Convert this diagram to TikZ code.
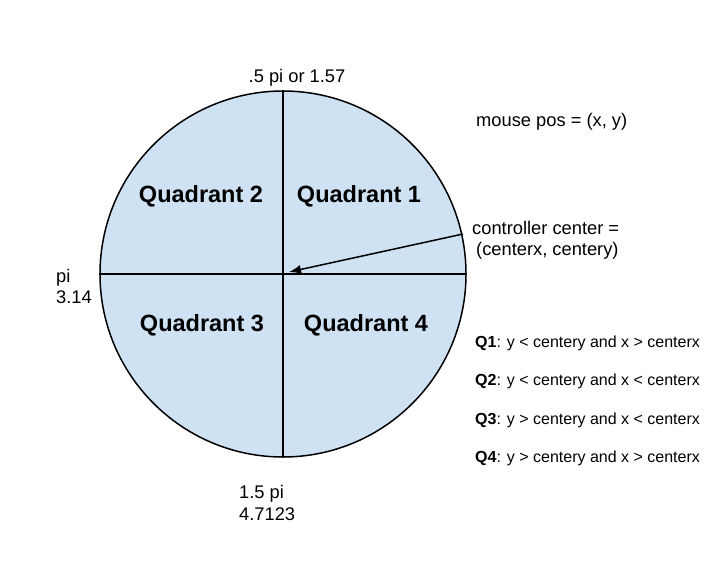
\documentclass[tikz,border=0pt]{standalone}
\usepackage{fontspec}
\setmainfont{Liberation Sans}
\usetikzlibrary{arrows.meta}
\begin{document}
\begin{tikzpicture}[x=1pt, y=-1pt,
    wheelStyle/.style={circle, draw, line width=1.5pt, fill=wheelBlue, minimum size=366pt, inner sep=0pt},
    quadStyle/.style={font=\bfseries\fontsize{23.5}{27}\selectfont, anchor=base, inner sep=0pt},
    noteStyle/.style={font=\fontsize{18.3}{21}\selectfont, anchor=base west, inner sep=0pt},
    ruleStyle/.style={font=\fontsize{16}{19}\selectfont, anchor=base west, inner sep=0pt},
    lineStyle/.style={line width=1.3pt}]
    \definecolor{wheelBlue}{HTML}{CFE2F3}
    \useasboundingbox (0,0) rectangle (728,573);

    \node[wheelStyle] (wheel) at (283, 274) {};
    \draw[lineStyle] (wheel.north) -- (wheel.south);
    \draw[lineStyle] (wheel.west) -- (wheel.east);

    % quadrant names
    \node[quadStyle] (quad_2) at (201, 202) {Quadrant 2};
    \node[quadStyle] (quad_1) at (359, 202) {Quadrant 1};
    \node[quadStyle] (quad_3) at (202, 331) {Quadrant 3};
    \node[quadStyle] (quad_4) at (366, 331) {Quadrant 4};

    % angles
    \node[noteStyle, anchor=base] (top_lbl) at (297, 82) {.5 pi or 1.57};
    \node[noteStyle] (left_lbl) at (56, 282) {pi};
    \node[noteStyle] (left_val) at (56, 303) {3.14};
    \node[noteStyle] (bottom_lbl) at (239, 498) {1.5 pi};
    \node[noteStyle] (bottom_val) at (239, 520) {4.7123};

    \node[noteStyle] (mouse_lbl) at (476, 126) {mouse pos = (x, y)};
    \node[noteStyle] (ctrl_lbl) at (472, 234) {controller center =};
    \node[noteStyle] (ctrl_val) at (476, 255) {(centerx, centery)};

    \coordinate (ctrl_tail) at (463, 234);
    \coordinate (center_tip) at (289, 272);
    \draw[-{Latex[length=12pt, width=9pt]}, line width=1.5pt] (ctrl_tail) -- (center_tip);

    % rules
    \node[ruleStyle] (rule_1) at (475, 347.5) {\textbf{Q1}: y < centery and x > centerx};
    \node[ruleStyle] (rule_2) at (475, 385.5) {\textbf{Q2}: y < centery and x < centerx};
    \node[ruleStyle] (rule_3) at (475, 424) {\textbf{Q3}: y > centery and x < centerx};
    \node[ruleStyle] (rule_4) at (475, 462) {\textbf{Q4}: y > centery and x > centerx};
\end{tikzpicture}
\end{document}
